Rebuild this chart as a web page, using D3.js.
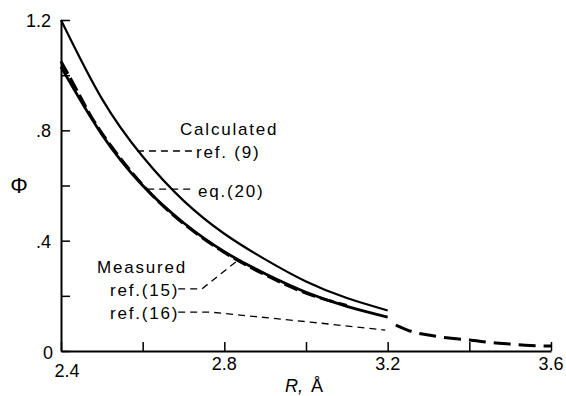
<!DOCTYPE html>
<html><head><meta charset="utf-8">
<script src="https://cdn.jsdelivr.net/npm/d3@7"></script>
<style>body{margin:0;background:#fff}svg{display:block}text{font-family:"Liberation Sans",Arial,sans-serif;fill:#000}</style>
</head><body><div id="chart"></div>
<script>
// ---- data ----
const R_calc = [2.4, 2.5, 2.6, 2.7, 2.8, 2.9, 3.0, 3.1, 3.2];
const phiRef9 = [1.20, 0.915, 0.705, 0.545, 0.425, 0.332, 0.252, 0.192, 0.147];
const phiEq20 = [1.03, 0.785, 0.600, 0.465, 0.360, 0.280, 0.213, 0.162, 0.123];
const R_ref15 = [2.4, 2.45, 2.5, 2.6, 2.7, 2.8, 2.9, 3.0, 3.1];
const phiRef15 = [1.05, 0.915, 0.790, 0.602, 0.462, 0.357, 0.276, 0.210, 0.165];
const R_ref16 = [3.22, 3.26, 3.3, 3.35, 3.4, 3.45, 3.5, 3.55, 3.6];
const phiRef16 = [0.094, 0.070, 0.058, 0.047, 0.040, 0.031, 0.025, 0.020, 0.018];
const xTicks = [2.4, 2.6, 2.8, 3.0, 3.2, 3.4, 3.6];
const xTickLabels = ["2.4", "2.8", "3.2", "3.6"];
const yTicks = [0, 0.2, 0.4, 0.6, 0.8, 1.0, 1.2];
const yTickLabels = ["0", ".4", ".8", "1.2"];
// annotation leader lines (data units)
const leadRef9 = [[2.586, 0.725], [2.725, 0.725]];
const leadEq20 = [[2.611, 0.587], [2.722, 0.587]];
const leadRef15 = [[2.687, 0.225], [2.745, 0.225], [2.834, 0.330]];
const leadRef16 = [[2.687, 0.141], [2.765, 0.141], [3.01, 0.105], [3.194, 0.076]];

const W = 566, H = 396;
const m = {left: 61, right: 15, top: 20, bottom: 45};
const svg = d3.select("#chart").append("svg").attr("width", W).attr("height", H);
const x = d3.scaleLinear().domain([2.4, 3.6]).range([m.left, W - m.right]);
const y = d3.scaleLinear().domain([0, 1.2]).range([H - m.bottom, m.top]);

// axes
svg.append("g").attr("transform", `translate(0,${y(0)})`)
  .call(d3.axisBottom(x).tickValues(xTicks).tickSizeInner(-9).tickSizeOuter(0).tickFormat(""))
  .call(g => { g.select(".domain").attr("stroke-width", 2); g.selectAll(".tick line").attr("stroke-width", 1.5); });
svg.append("g").attr("transform", `translate(${x(2.4)},0)`)
  .call(d3.axisLeft(y).tickValues(yTicks).tickSizeInner(-9).tickSizeOuter(0).tickFormat(""))
  .call(g => { g.select(".domain").attr("stroke-width", 2); g.selectAll(".tick line").attr("stroke-width", 1.5); });

// tick labels
svg.selectAll(".xl").data(xTickLabels).join("text")
  .attr("x", d => x(+d) + (d === "2.4" ? 6 : 0)).attr("y", d => d === "2.4" ? 377 : 370)
  .attr("text-anchor", "middle").attr("font-size", 18).text(d => d);
svg.selectAll(".yl").data(yTickLabels).join("text")
  .attr("x", d => d === "0" ? 53 : 51).attr("y", d => y(+d) + (d === "0" ? 8 : 7))
  .attr("text-anchor", "end").attr("font-size", 18).text(d => d);

// axis titles
svg.append("text").attr("x", 19).attr("y", 193).attr("text-anchor", "middle").attr("font-size", 22).text("Φ");
const xt = svg.append("text").attr("x", 285).attr("y", 392).attr("font-size", 18);
xt.append("tspan").attr("font-style", "italic").text("R,");
xt.append("tspan").attr("dx", 8).text("Å");

// curves
const line = d3.line().x(d => x(d[0])).y(d => y(d[1])).curve(d3.curveNatural);
svg.append("path").datum(R_calc.map((r, i) => [r, phiRef9[i]])).attr("d", line)
  .attr("fill", "none").attr("stroke", "#000").attr("stroke-width", 2.2);
svg.append("path").datum(R_calc.map((r, i) => [r, phiEq20[i]])).attr("d", line)
  .attr("fill", "none").attr("stroke", "#000").attr("stroke-width", 2.8);
svg.append("path").datum(R_ref15.map((r, i) => [r, phiRef15[i]])).attr("d", line)
  .attr("fill", "none").attr("stroke", "#000").attr("stroke-width", 3).attr("stroke-dasharray", "14,5");
svg.append("path").datum(R_ref16.map((r, i) => [r, phiRef16[i]])).attr("d", line)
  .attr("fill", "none").attr("stroke", "#000").attr("stroke-width", 3).attr("stroke-dasharray", "17,8");

// leaders
const lead = d3.line().x(d => x(d[0])).y(d => y(d[1]));
[leadRef9, leadEq20, leadRef15, leadRef16].forEach(p => {
  svg.append("path").datum(p).attr("d", lead).attr("fill", "none")
    .attr("stroke", "#000").attr("stroke-width", 1.3).attr("stroke-dasharray", "7,5");
});

// labels
const lab = (t, xx, yy) => svg.append("text").attr("x", xx).attr("y", yy)
  .attr("font-size", 17).attr("letter-spacing", 1.8).text(t);
lab("Calculated", 180, 135);
lab("ref. (9)", 196, 158);
lab("eq.(20)", 198, 197);
lab("Measured", 97, 273);
lab("ref.(15)", 110, 296);
lab("ref.(16)", 110, 319);
</script></body></html>
